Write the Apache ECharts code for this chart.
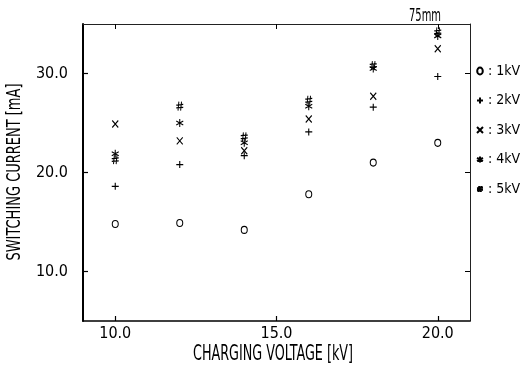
<!DOCTYPE html>
<html><head><meta charset="utf-8">
<script src="https://cdn.jsdelivr.net/npm/echarts@6/dist/echarts.min.js"></script>
<style>html,body{margin:0;padding:0;background:#fff}#c{width:524px;height:369px}</style>
</head><body><div id="c"></div>
<script>
// ---- data ----
const xVoltage = [10, 12, 14, 16, 18, 20];
const s1kV = [14.8, 14.9, 14.2, 17.8, 21.0, 23.0];
const s2kV = [18.6, 20.8, 21.7, 24.1, 26.6, 29.7];
const s3kV = [24.9, 23.2, 22.2, 25.4, 27.7, 32.5];
const s4kV = [21.9, 25.0, 23.0, 26.7, 30.5, 33.8];
const s5kV = [21.3, 26.7, 23.6, 27.3, 30.8, 34.2];
const seriesNames = ['1kV', '2kV', '3kV', '4kV', '5kV'];
const xTickValues = [10, 15, 20];
const yTickValues = [10, 20, 30];
const xTitle = 'CHARGING VOLTAGE [kV]';
const yTitle = 'SWITCHING CURRENT [mA]';
const cornerNote = '75mm';

// ---- styling ----
const FONT = '"DejaVu Sans Condensed", "Liberation Sans Narrow", "DejaVu Sans", sans-serif';
const symbols = [
  'path://M0,5 A4,5 0 1,1 8,5 A4,5 0 1,1 0,5 Z',
  'path://M4,0 L4,8 M0,4 L8,4',
  'path://M0,0 L8,8 M8,0 L0,8',
  'path://M4,0 L4,8 M0,2 L8,6 M8,2 L0,6',
  'path://M3,0 L2,8 M6,0 L5,8 M0,3 L8,2.4 M0,5.6 L8,5'
];
const sizes = [[6, 7], [7, 7], [6, 7], [7, 8], [7, 9]];
const allSeries = [s1kV, s2kV, s3kV, s4kV, s5kV];

function fit(text, size, width) {
  const ctx = document.createElement('canvas').getContext('2d');
  ctx.font = size + 'px ' + FONT;
  return width / ctx.measureText(text).width;
}

const chart = echarts.init(document.getElementById('c'), null, {renderer: 'canvas'});
const option = {
  animation: false,
  backgroundColor: '#fff',
  grid: {left: 83, right: 54, top: 24, bottom: 48},
  xAxis: [{
    type: 'value', min: 9, max: 21, position: 'bottom',
    axisLine: {show: true, lineStyle: {color: '#000', width: 1.5}},
    axisTick: {show: true, inside: true, length: 5, customValues: xTickValues, lineStyle: {color: '#000', width: 1.2}},
    axisLabel: {customValues: xTickValues, formatter: v => v.toFixed(1), margin: 5, fontSize: 16, fontFamily: FONT, color: '#000'},
    splitLine: {show: false}
  }, {
    type: 'value', min: 9, max: 21, position: 'top',
    axisLine: {show: true, lineStyle: {color: '#222', width: 1}},
    axisTick: {show: true, inside: true, length: 5, customValues: xTickValues, lineStyle: {color: '#000'}},
    axisLabel: {show: false},
    splitLine: {show: false}
  }],
  yAxis: [{
    type: 'value', min: 5, max: 35, position: 'left',
    axisLine: {show: true, lineStyle: {color: '#000', width: 2}},
    axisTick: {show: true, inside: true, length: 5, customValues: yTickValues, lineStyle: {color: '#000', width: 1.2}},
    axisLabel: {customValues: yTickValues, formatter: v => v.toFixed(1), margin: 15, fontSize: 16, fontFamily: FONT, color: '#000'},
    splitLine: {show: false}
  }, {
    type: 'value', min: 5, max: 35, position: 'right',
    axisLine: {show: true, lineStyle: {color: '#222', width: 1}},
    axisTick: {show: true, inside: true, length: 5, customValues: yTickValues, lineStyle: {color: '#000'}},
    axisLabel: {show: false},
    splitLine: {show: false}
  }],
  legend: {
    orient: 'vertical', left: 476, top: 63, padding: 0, itemWidth: 6, itemHeight: 7, itemGap: 13.5,
    selectedMode: false,
    formatter: n => ': ' + n,
    textStyle: {fontSize: 14, lineHeight: 16, fontFamily: FONT, color: '#000'},
    data: seriesNames
  },
  graphic: [
    {type: 'text', x: 273, y: 354, scaleX: fit(xTitle, 22, 160),
     style: {text: xTitle, fontSize: 22, fontFamily: FONT, fill: '#000', align: 'center', verticalAlign: 'middle'}},
    {type: 'text', x: 15, y: 172, rotation: Math.PI / 2, scaleX: fit(yTitle, 20, 177),
     style: {text: yTitle, fontSize: 20, fontFamily: FONT, fill: '#000', align: 'center', verticalAlign: 'middle'}},
    {type: 'text', x: 425, y: 16, scaleX: fit(cornerNote, 18, 32),
     style: {text: cornerNote, fontSize: 18, fontFamily: FONT, fill: '#000', align: 'center', verticalAlign: 'middle'}}
  ],
  series: allSeries.map((vals, i) => ({
    name: seriesNames[i],
    type: 'scatter',
    symbol: symbols[i],
    symbolSize: sizes[i],
    symbolKeepAspect: false,
    itemStyle: {color: 'rgba(0,0,0,0)', borderColor: '#000', borderWidth: 1.1, opacity: 1},
    emphasis: {disabled: true},
    data: xVoltage.map((x, j) => [x, vals[j]])
  }))
};
chart.setOption(option);
</script>
</body></html>
